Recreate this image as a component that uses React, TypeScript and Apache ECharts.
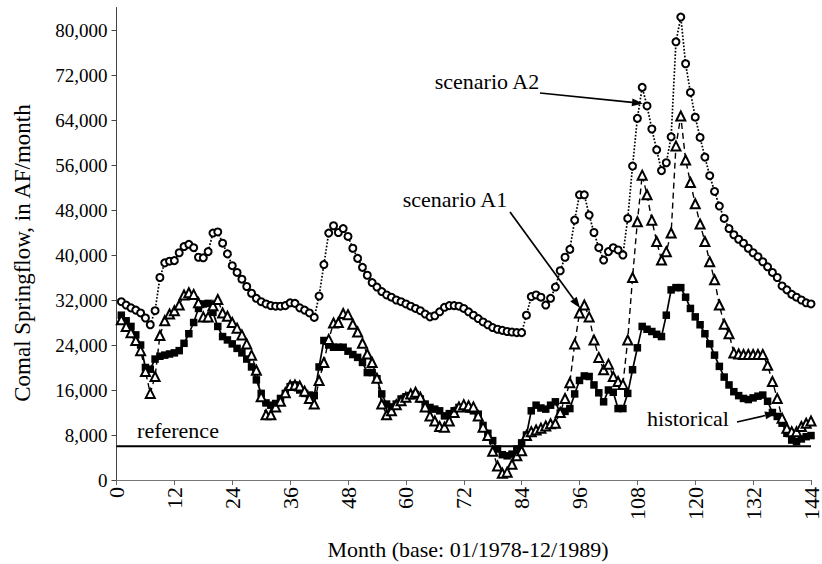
import React, { useEffect, useRef } from "react";
import * as echarts from "echarts";

// Month numbers 1..144 (01/1978 - 12/1989)
const months: number[] = Array.from({ length: 144 }, (_, i) => i + 1);

const scenarioA2: number[] = [
  31700, 31100, 30600, 30200, 29700, 28800, 27600, 30100, 36000, 38600,
  38900, 39000, 40400, 41500, 41900, 41300, 39600, 39500, 40600, 43900,
  44100, 42100, 40200, 38100, 36900, 35700, 34400, 33200, 32300, 31700,
  31300, 31000, 30900, 30900, 31000, 31500, 31400, 30600, 30200, 29700,
  28900, 32700, 38300, 43900, 45200, 44000, 44700, 43300, 41200, 39400,
  37800, 36400, 35100, 34300, 33500, 32900, 32500, 32000, 31700, 31300,
  30900, 30500, 30100, 29500, 29000, 29200, 29900, 30700, 31000, 31000,
  30900, 30500, 29900, 29300, 28700, 28100, 27600, 27100, 26800, 26600,
  26400, 26300, 26200, 26200, 29300, 32600, 32900, 32500, 31100, 32300,
  34300, 37200, 39600, 41000, 46200, 50700, 50700, 47100, 44000, 41300,
  39100, 40600, 41300, 40900, 40000, 46500, 55800, 64300, 69800, 66500,
  62400, 58700, 55000, 56400, 61000, 77900, 82300, 74000, 68900, 64500,
  60900, 57400, 54100, 51300, 48700, 46500, 44700, 43600, 42800, 42100,
  41200, 40400, 39700, 38800, 37900, 36900, 36000, 34500, 33800, 33000,
  32500, 32000, 31500, 31300,
];

const scenarioA1: number[] = [
  28500, 27300, 26200, 24800, 23000, 19300, 15400, 18400, 25700, 28300,
  29500, 30100, 31100, 32900, 33300, 33000, 31500, 29000, 29000, 31000,
  32100, 29700, 29100, 28000, 27000, 25800, 24200, 22200, 19500, 14800,
  11600, 11600, 13000, 14000, 15500, 16800, 16900, 16700, 15800, 14500,
  13500, 17700, 20900, 25000, 27900, 28000, 29600, 29400, 27700, 26300,
  24300, 22400, 20900, 18100, 13500, 11600, 12300, 13400, 14100, 14700,
  15300, 15600, 14700, 13000, 11400, 10500, 9500, 9400, 10500, 12000,
  13000, 13400, 13200, 13000, 11400, 9400, 7900, 5100, 2500, 1200,
  1400, 2800, 4300, 5200, 7900, 8600, 8900, 9200, 9600, 10000,
  10100, 12000, 14500, 17300, 24200, 29700, 31100, 29000, 24900, 21800,
  19600, 20600, 18400, 17500, 17000, 24900, 36000, 45900, 54200, 50700,
  46200, 42400, 39100, 40600, 43900, 59400, 64700, 56900, 52900, 49100,
  45500, 42400, 38800, 35600, 31100, 27700, 26000, 22600, 22400, 22300,
  22300, 22300, 22300, 22300, 20400, 17500, 14500, 11000, 9200, 8600,
  8600, 9500, 10100, 10500,
];

const historical: number[] = [
  29300, 28300, 27300, 25800, 24000, 20000, 19700, 21500, 22000, 22200,
  22400, 22600, 23000, 24300, 26000, 28000, 30500, 31300, 31400, 29800,
  27300, 25500, 24900, 24200, 23400, 22600, 21500, 20100, 17800, 15400,
  13700, 13300, 13600, 14500, 15400, 16600, 16900, 16000, 15400, 15100,
  15000, 20100, 24800, 24000, 23600, 23600, 23600, 22900, 22300, 21800,
  20900, 19100, 19100, 18000, 15300, 13500, 13000, 13500, 14400, 14800,
  15000, 15200, 14400, 13500, 12900, 12600, 12300, 11400, 11800, 12300,
  12900, 12800, 12600, 12300, 11700, 9700, 8300, 7000, 5500, 4500,
  4300, 4600, 5500, 6600, 8000, 12300, 13300, 12800, 12600, 13300,
  13900, 11900, 12200, 12700, 15300, 17700, 18500, 18400, 16900, 15500,
  13900, 16000, 15600, 12700, 12700, 15400, 19600, 23500, 27300, 26800,
  26400, 25900, 25500, 29300, 33800, 34200, 34200, 32500, 30500, 29000,
  27600, 26000, 24200, 22200, 20200, 18300, 16900, 15700, 15000, 14500,
  14300, 14600, 14900, 15100, 14000, 12000, 11300, 10100, 8300, 7100,
  6800, 7300, 7700, 7900,
];

const referenceFlow = 6000;
const referenceSpan: number[] = [0, 144];
const yTickValues: number[] = [0, 8000, 16000, 24000, 32000, 40000, 48000, 56000, 64000, 72000, 80000];
const xTickValues: number[] = [0, 12, 24, 36, 48, 60, 72, 84, 96, 108, 120, 132, 144];

const FONT = '"Liberation Serif", "Times New Roman", serif';

function arrow(x1: number, y1: number, x2: number, y2: number, head = 11, half = 4) {
  const a = Math.atan2(y2 - y1, x2 - x1);
  const bx = x2 - head * Math.cos(a);
  const by = y2 - head * Math.sin(a);
  const lx = bx + half * Math.sin(a);
  const ly = by - half * Math.cos(a);
  const rx = bx - half * Math.sin(a);
  const ry = by + half * Math.cos(a);
  return [
    { type: "line", shape: { x1, y1, x2: bx, y2: by }, style: { stroke: "#000", lineWidth: 1.7 } },
    { type: "polygon", shape: { points: [[x2, y2], [lx, ly], [rx, ry]] }, style: { fill: "#000" } },
  ];
}

function label(text: string, x: number, y: number, size: number, rotation = 0) {
  return {
    type: "text",
    x,
    y,
    rotation,
    style: {
      text,
      font: `${size}px ${FONT}`,
      fill: "#000",
      align: "center",
      verticalAlign: "middle",
      textAlign: "center",
      textVerticalAlign: "middle",
    },
  };
}

export default function App() {
  const ref = useRef<HTMLDivElement>(null);

  useEffect(() => {
    if (!ref.current) return;
    const chart = echarts.init(ref.current, undefined, { renderer: "svg" });

    const pairs = (vals: number[]) => months.map((m, i) => [m, vals[i]]);

    chart.setOption({
      animation: false,
      backgroundColor: "#fff",
      grid: { left: 116.5, right: 6, top: 7.5, bottom: 84 },
      xAxis: {
        type: "value",
        min: 0,
        max: 144,
        interval: 12,
        axisLine: { show: true, lineStyle: { color: "#777", width: 1 } },
        axisTick: { show: true, length: 5, lineStyle: { color: "#666" }, customValues: xTickValues },
        axisLabel: {
          rotate: 90,
          margin: 7,
          color: "#000",
          fontFamily: FONT,
          fontSize: 22,
          customValues: xTickValues,
        },
        splitLine: { show: false },
      },
      yAxis: {
        type: "value",
        min: 0,
        max: 84000,
        interval: 8000,
        axisLine: { show: true, lineStyle: { color: "#444", width: 1 } },
        axisTick: { show: true, length: 5, lineStyle: { color: "#444" }, customValues: yTickValues },
        axisLabel: {
          margin: 9,
          color: "#000",
          fontFamily: FONT,
          fontSize: 19,
          customValues: yTickValues,
          formatter: (v: number) => (v > 80000 ? "" : v.toLocaleString("en-US")),
        },
        splitLine: { show: false },
      },
      series: [
        {
          name: "reference",
          type: "line",
          data: referenceSpan.map((m) => [m, referenceFlow]),
          showSymbol: false,
          symbol: "none",
          lineStyle: { color: "#000", width: 2 },
          z: 1,
        },
        {
          name: "historical",
          type: "line",
          data: pairs(historical),
          symbol: "rect",
          symbolSize: 7.5,
          itemStyle: { color: "#000" },
          lineStyle: { color: "#000", width: 1.7 },
          z: 2,
        },
        {
          name: "scenario A1",
          type: "line",
          data: pairs(scenarioA1),
          symbol: "emptyTriangle",
          symbolSize: 9,
          itemStyle: { color: "#000", borderWidth: 1.4 },
          lineStyle: { color: "#000", width: 1.4, type: [6, 4] },
          z: 3,
        },
        {
          name: "scenario A2",
          type: "line",
          data: pairs(scenarioA2),
          symbol: "emptyCircle",
          symbolSize: 7,
          itemStyle: { color: "#000", borderWidth: 1.4 },
          lineStyle: { color: "#000", width: 1.7, type: "dotted" },
          z: 4,
        },
      ],
      graphic: [
        label("scenario A2", 487, 81, 22),
        ...arrow(540, 93, 643, 103.5),
        label("scenario A1", 455, 199, 22),
        ...arrow(510, 212, 580, 308),
        label("historical", 688, 418, 22),
        ...arrow(737, 422, 776, 413),
        label("reference", 178, 430, 22),
        label("Comal Springflow, in AF/month", 22, 253, 23, Math.PI / 2),
        label("Month (base: 01/1978-12/1989)", 468, 549, 22),
      ],
    });

    return () => chart.dispose();
  }, []);

  return (
    <div
      ref={ref}
      style={{ position: "fixed", left: 0, top: 0, width: 822, height: 564, background: "#fff" }}
    />
  );
}
